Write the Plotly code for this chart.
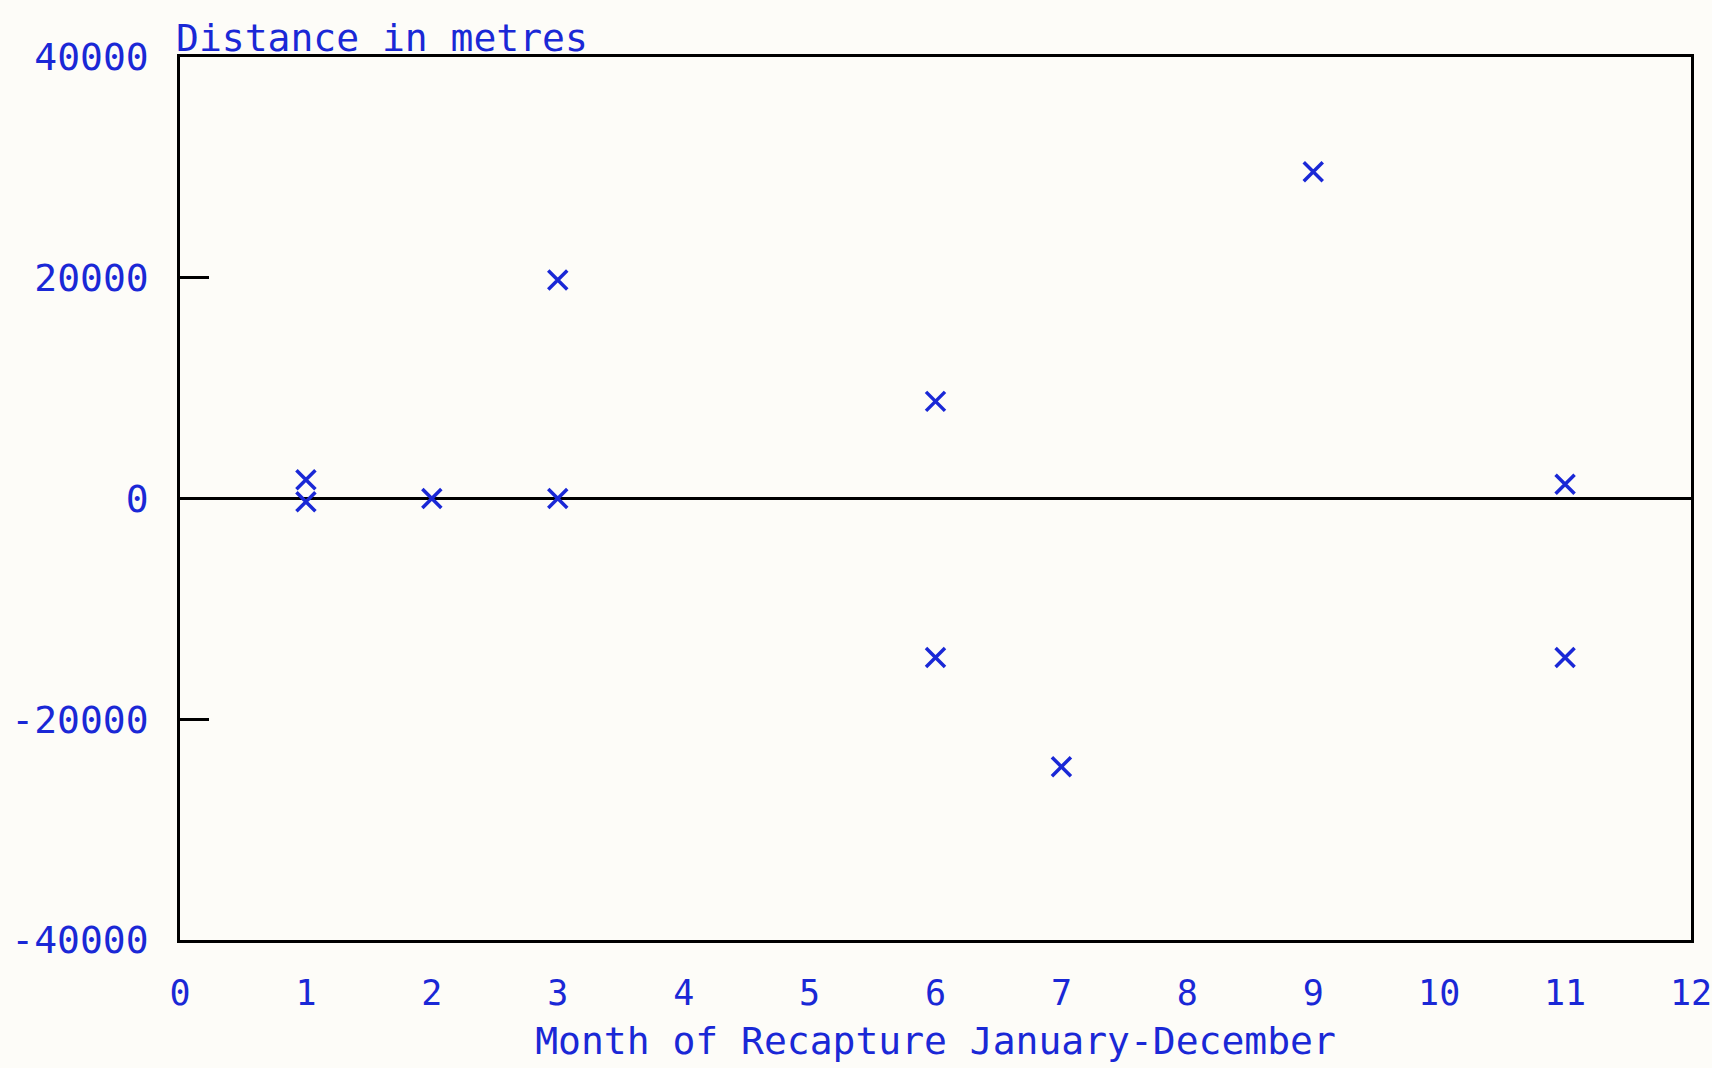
import plotly.graph_objects as go

# Recapture records: month of recapture and distance moved (metres)
months = [1, 1, 2, 3, 3, 6, 6, 7, 9, 11, 11]
distances = [1700, -300, 0, 19800, 0, 8800, -14400, -24300, 29600, 1300, -14400]

x_ticks = list(range(0, 13))
y_ticks = [-40000, -20000, 0, 20000, 40000]

INK = "#1a28d6"
PAPER = "#fdfcf8"
FONT = "DejaVu Sans Mono"

fig = go.Figure()

fig.add_trace(go.Scatter(
    x=months,
    y=distances,
    mode="markers",
    marker=dict(symbol="x-thin-open", size=19, color=INK,
                line=dict(color=INK, width=3.5)),
    showlegend=False,
    hoverinfo="x+y",
))

fig.update_layout(
    width=1712,
    height=1068,
    paper_bgcolor=PAPER,
    plot_bgcolor=PAPER,
    margin=dict(l=180, r=21, t=57, b=128),
    font=dict(family=FONT, color=INK, size=38),
    annotations=[dict(
        text="Distance in metres",
        xref="paper", yref="paper",
        x=0, y=1, xanchor="left", yanchor="bottom",
        xshift=-6, yshift=-5,
        showarrow=False,
        font=dict(family=FONT, color=INK, size=38),
    )],
)

fig.update_xaxes(
    range=[0, 12],
    tickvals=x_ticks,
    ticktext=[str(v) for v in x_ticks],
    ticks="",
    ticklabelstandoff=20,
    ticklabeloverflow="allow",
    tickfont=dict(family=FONT, color=INK, size=35),
    showgrid=False,
    zeroline=False,
    showline=True,
    linecolor="black",
    linewidth=2.5,
    mirror=True,
    automargin=False,
    title=dict(text="Month of Recapture January-December",
               font=dict(family=FONT, color=INK, size=38),
               standoff=16),
)

fig.update_yaxes(
    range=[-40000, 40000],
    tickvals=y_ticks,
    ticktext=[str(v) for v in y_ticks],
    ticks="inside",
    ticklen=29,
    tickwidth=2.5,
    tickcolor="black",
    ticklabelstandoff=21,
    tickfont=dict(family=FONT, color=INK, size=38),
    showgrid=False,
    zeroline=True,
    zerolinecolor="black",
    zerolinewidth=2.5,
    showline=True,
    linecolor="black",
    linewidth=2.5,
    mirror=True,
    automargin=False,
)

fig.write_html("out.html")
